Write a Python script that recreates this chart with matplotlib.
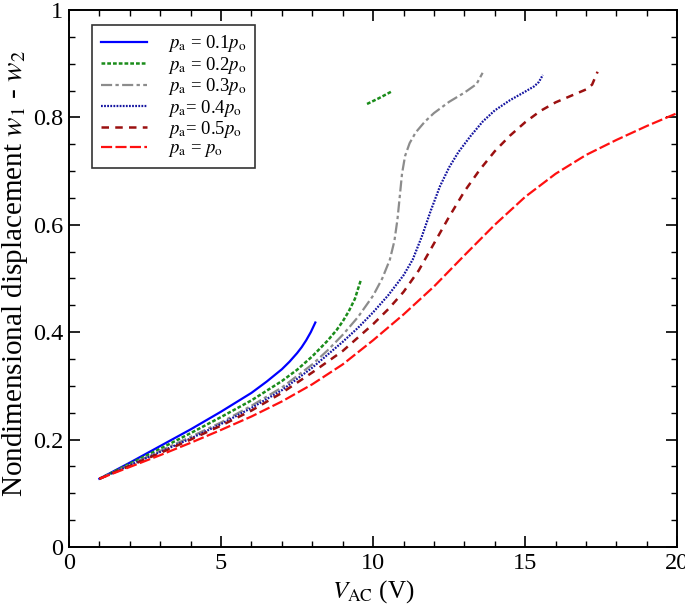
import matplotlib
matplotlib.use("Agg")
import matplotlib.pyplot as plt
from matplotlib.ticker import MultipleLocator

plt.rcParams['font.family'] = ['Liberation Serif', 'DejaVu Serif']
plt.rcParams['mathtext.fontset'] = 'stix'

# p_a = 0.1 p_o
x_01 = [1, 2, 3, 4, 5, 6, 6.5, 7, 7.25, 7.5, 7.65, 7.8, 7.95, 8.1]
y_01 = [0.127, 0.157, 0.188, 0.219, 0.252, 0.287, 0.308, 0.331, 0.345, 0.361,
        0.372, 0.385, 0.400, 0.418]

# p_a = 0.2 p_o (two branches)
x_02a = [1, 2, 3, 4, 5, 6, 7, 7.5, 8, 8.5, 8.8, 9, 9.2, 9.4, 9.59]
y_02a = [0.127, 0.155, 0.183, 0.212, 0.242, 0.273, 0.309, 0.330, 0.355, 0.384,
         0.404, 0.420, 0.439, 0.462, 0.496]
x_02b = [9.8, 10.2, 10.6]
y_02b = [0.825, 0.836, 0.848]

# p_a = 0.3 p_o
x_03 = [1, 2, 3, 4, 5, 6, 7, 8, 8.5, 9, 9.5, 10, 10.3, 10.55, 10.7, 10.8,
        10.88, 10.95, 11.05, 11.2, 11.4, 11.7, 12, 12.5, 13, 13.4, 13.6]
y_03 = [0.127, 0.153, 0.179, 0.205, 0.232, 0.263, 0.297, 0.340, 0.366, 0.395,
        0.428, 0.468, 0.500, 0.535, 0.570, 0.610, 0.655, 0.695, 0.728, 0.752,
        0.772, 0.792, 0.808, 0.829, 0.846, 0.862, 0.883]

# p_a = 0.4 p_o
x_04 = [1, 2, 3, 4, 5, 6, 7, 8, 9, 9.5, 10, 10.5, 11, 11.3, 11.6, 11.9,
        12.2, 12.5, 12.8, 13.2, 13.6, 14, 14.5, 15, 15.3, 15.45, 15.58]
y_04 = [0.127, 0.152, 0.177, 0.202, 0.229, 0.259, 0.292, 0.334, 0.382, 0.408,
        0.437, 0.469, 0.506, 0.535, 0.578, 0.627, 0.672, 0.707, 0.735, 0.765,
        0.792, 0.813, 0.832, 0.848, 0.858, 0.866, 0.879]

# p_a = 0.5 p_o
x_05 = [1, 2, 3, 4, 5, 6, 7, 8, 9, 10, 10.5, 11, 11.5, 12, 12.5, 13, 13.5,
        14, 14.5, 15, 15.5, 16, 16.5, 17, 17.2, 17.38]
y_05 = [0.127, 0.151, 0.175, 0.200, 0.226, 0.254, 0.287, 0.325, 0.365, 0.415,
        0.443, 0.475, 0.515, 0.565, 0.615, 0.662, 0.702, 0.737, 0.766, 0.791,
        0.812, 0.828, 0.840, 0.852, 0.861, 0.885]

# p_a = p_o
x_10 = [1, 2, 3, 4, 5, 6, 7, 8, 9, 10, 11, 12, 13, 14, 15, 16, 17, 18, 19, 20]
y_10 = [0.127, 0.149, 0.171, 0.194, 0.218, 0.243, 0.271, 0.303, 0.340, 0.385,
        0.433, 0.485, 0.543, 0.600, 0.652, 0.695, 0.730, 0.758, 0.784, 0.808]

fig = plt.figure(figsize=(6.85, 6.13), dpi=100)
ax = fig.add_axes([0.1007, 0.1077, 0.888, 0.876])

ax.plot(x_01, y_01, color='#0000ff', lw=1.6, ls='-',
        label=r'$p_{\mathrm{a}}$ = 0.1$p_{\mathrm{o}}$')
ax.plot(x_02a, y_02a, color='#1a8c1a', lw=1.8, ls=(0, (1.5, 0.8)),
        label=r'$p_{\mathrm{a}}$ = 0.2$p_{\mathrm{o}}$')
ax.plot(x_02b, y_02b, color='#1a8c1a', lw=1.8, ls=(0, (1.5, 0.8)))
ax.plot(x_03, y_03, color='#8c8c8c', lw=1.6, ls=(0, (5, 1.5, 1.5, 1.5)),
        label=r'$p_{\mathrm{a}}$ = 0.3$p_{\mathrm{o}}$')
ax.plot(x_04, y_04, color='#1414a0', lw=1.6, ls=(0, (0.8, 0.6)),
        label=r'$p_{\mathrm{a}}$= 0.4$p_{\mathrm{o}}$')
ax.plot(x_05, y_05, color='#9b1010', lw=1.8, ls=(0, (3, 2.5)),
        label=r'$p_{\mathrm{a}}$= 0.5$p_{\mathrm{o}}$')
ax.plot(x_10, y_10, color='#ff1010', lw=1.6, ls=(0, (5, 1.5)),
        label=r'$p_{\mathrm{a}}$ = $p_{\mathrm{o}}$')

ax.set_xlim(0, 20)
ax.set_ylim(0, 1)
ax.xaxis.set_major_locator(MultipleLocator(5))
ax.xaxis.set_minor_locator(MultipleLocator(1))
ax.yaxis.set_minor_locator(MultipleLocator(0.05))
ax.set_yticks([0, 0.2, 0.4, 0.6, 0.8, 1.0])
ax.set_yticklabels(['0', '0.2', '0.4', '0.6', '0.8', '1'])
ax.tick_params(which='both', direction='in', top=True, right=True, labelsize=17.5)
ax.tick_params(which='major', length=8, width=1.2, pad=4)
ax.tick_params(which='minor', length=4.5, width=1.0)
for s in ax.spines.values():
    s.set_linewidth(1.4)

ax.set_xlabel(r'$V_{\mathrm{AC}}$ (V)', fontsize=18, labelpad=3)
ax.set_ylabel(r'Nondimensional displacement $w_1$ - $w_2$', fontsize=21)
ax.yaxis.set_label_coords(-0.064, 0.51)

leg = ax.legend(loc='upper left', bbox_to_anchor=(0.038, 0.972), borderaxespad=0,
                fontsize=13.5, frameon=True, fancybox=False, edgecolor='black',
                handlelength=2.5, handletextpad=1.1, labelspacing=0.02,
                borderpad=0.45)
leg.get_frame().set_linewidth(1.2)

fig.savefig('out.png', dpi=100)
